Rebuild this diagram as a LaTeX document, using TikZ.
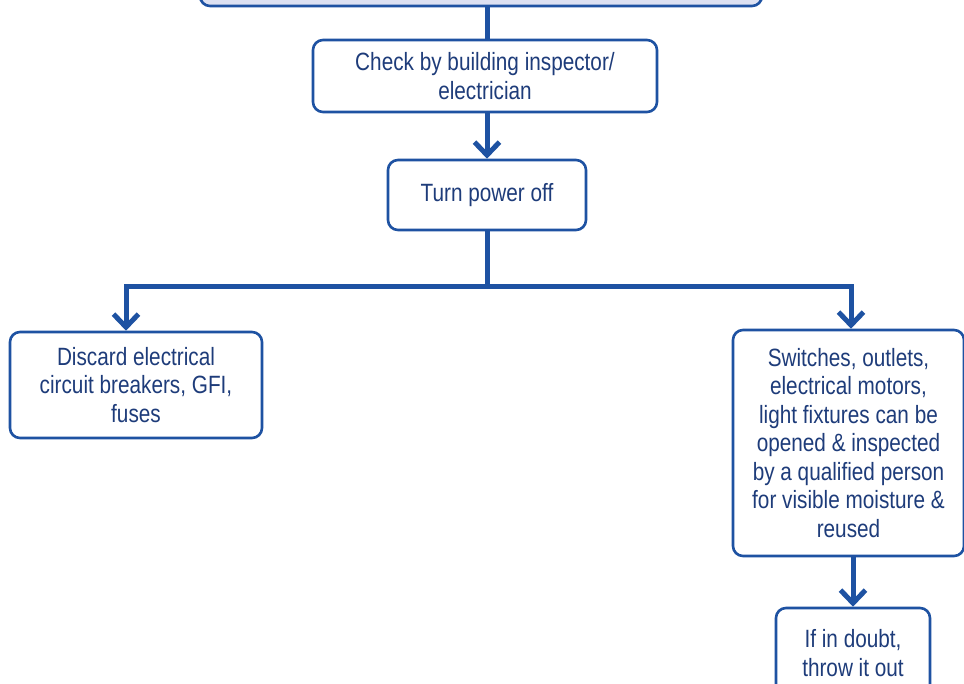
\documentclass[tikz,border=0pt]{standalone}
\usepackage{fontspec}
\setmainfont{Liberation Sans}[FakeStretch=0.83]
\usetikzlibrary{arrows.meta}
\definecolor{lineblue}{HTML}{1E52A2}
\definecolor{textblue}{HTML}{1E3C7A}
\definecolor{topfill}{HTML}{DDE1F2}
\begin{document}
\begin{tikzpicture}[x=1pt,y=-1pt,
  box/.style={draw=lineblue, line width=2.6pt, rounded corners=10pt, fill=white,
    align=center, text=textblue, font=\fontsize{25}{28.5}\selectfont, inner sep=0pt},
  link/.style={draw=lineblue, line width=5pt},
  arr/.style={link, -{Straight Barb[length=13pt,width=25pt]}}]
\useasboundingbox (0,0) rectangle (964,684);
\fill[white] (0,0) rectangle (964,684);

% boxes
\node[box, fill=topfill, minimum width=562pt, minimum height=80pt] (top) at (481,-34) {};
\node[box, minimum width=344pt, minimum height=72pt] (check) at (485,76)
  {Check by building inspector/\\electrician};
\node[box, minimum width=198pt, minimum height=70pt] (turn) at (487,195) {Turn power off};
\node[box, minimum width=252pt, minimum height=106pt] (discard) at (136,385)
  {Discard electrical\\circuit breakers, GFI,\\fuses};
\node[box, minimum width=231pt, minimum height=226pt] (switch) at (848.5,443)
  {Switches, outlets,\\electrical motors,\\light fixtures can be\\opened \& inspected\\by a qualified person\\for visible moisture \&\\reused};
\node[box, minimum width=154pt, minimum height=90pt] (doubt) at (853,653)
  {If in doubt,\\throw it out};

% connectors
\coordinate (split) at (487,287);
\draw[link] (top.south -| turn) -- (check.north -| turn);
\draw[arr] (check.south -| turn) -- (turn.north);
\draw[link] (turn.south) -- (split);
\draw[arr] (split) -| ([xshift=-10pt]discard.north);
\draw[arr] (split) -| ([xshift=2.5pt]switch.north);
\draw[arr] (switch.south -| doubt) -- (doubt.north);
\end{tikzpicture}
\end{document}
